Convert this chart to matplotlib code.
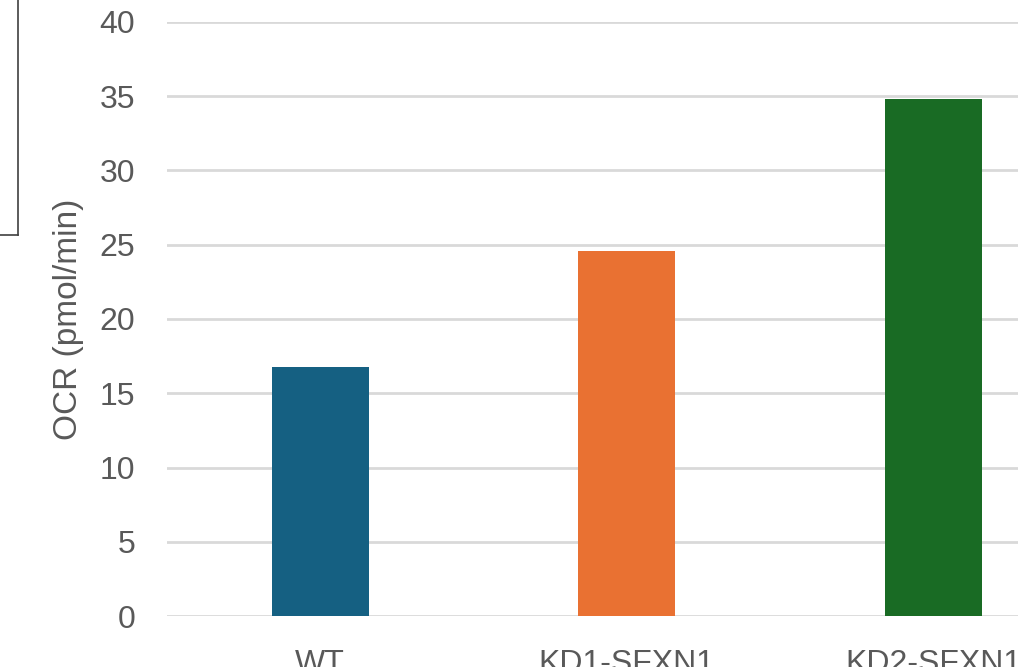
import matplotlib
matplotlib.use("Agg")
import matplotlib.pyplot as plt
from matplotlib.lines import Line2D

# data
groups = ["WT", "KD1-SFXN1", "KD2-SFXN1"]
ocr = [16.8, 24.6, 34.8]
colors = ["#156082", "#E97132", "#196B24"]
yticks = [0, 5, 10, 15, 20, 25, 30, 35, 40]

plt.rcParams['font.family'] = ['Liberation Sans', 'DejaVu Sans']

W, H = 1018, 667
fig = plt.figure(figsize=(W / 100, H / 100), dpi=100)

# axes runs past the right edge, the original screenshot is cropped
left = 167 / W
right = 1086.5 / W
bottom = (H - 616) / H
top = (H - 22) / H
ax = fig.add_axes([left, bottom, right - left, top - bottom])

x = range(len(groups))
ax.bar(x, ocr, width=0.316, color=colors, zorder=3)

ax.set_xlim(-0.5, 2.5)
ax.set_ylim(0, 40)
ax.set_yticks(yticks)
ax.set_xticks(list(x))
ax.set_xticklabels(groups)

ax.grid(axis='y', color='#D9D9D9', linewidth=2, zorder=0)
ax.set_axisbelow(True)
for s in ax.spines.values():
    s.set_visible(False)

ax.tick_params(axis='both', length=0, labelsize=23, labelcolor='#595959')
ax.tick_params(axis='y', pad=23)
ax.tick_params(axis='x', pad=24)
ax.set_ylabel("OCR (pmol/min)", fontsize=24, color='#595959')
ax.yaxis.set_label_coords((68 - 167) / (1086.5 - 167), 0.5)
ax.yaxis.label.set_va('center')

# leftover frame of a neighbouring element at the top-left
fig.add_artist(Line2D([18 / W, 18 / W], [1, (H - 235) / H], color='#404040', linewidth=1.2))
fig.add_artist(Line2D([0, 18 / W], [(H - 235) / H, (H - 235) / H], color='#404040', linewidth=1.2))

fig.savefig("out.png", dpi=100)
